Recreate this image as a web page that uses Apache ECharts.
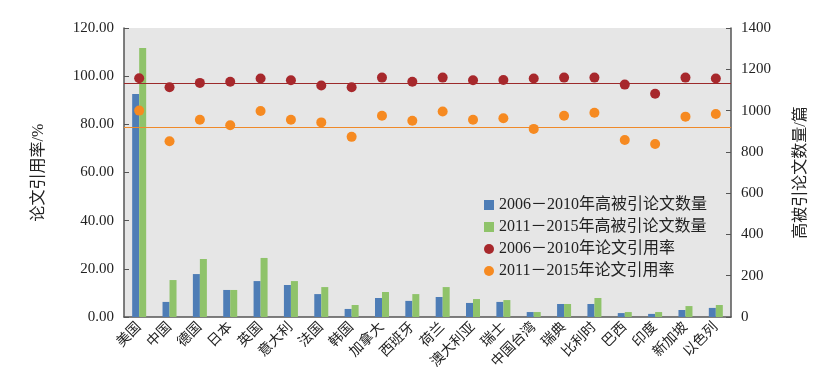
<!DOCTYPE html>
<html><head><meta charset="utf-8">
<script src="https://cdn.jsdelivr.net/npm/echarts@6/dist/echarts.min.js"></script>
<style>html,body{margin:0;padding:0;background:#fff}#c{width:819px;height:384px}</style>
</head><body><div id="c"></div>
<script>
const categories = ['美国','中国','德国','日本','英国','意大利','法国','韩国','加拿大','西班牙','荷兰','澳大利亚','瑞士','中国台湾','瑞典','比利时','巴西','印度','新加坡','以色列'];
const papers0610 = [1080,73,208,131,174,155,111,39,92,78,97,68,73,24,63,63,19,15,34,44];
const papers1115 = [1303,179,281,131,286,174,145,58,121,111,145,87,82,24,63,92,24,24,53,58];
const rate0610 = [99.1,95.4,97.2,97.7,99.0,98.3,96.1,95.4,99.4,97.7,99.4,98.3,98.4,99.0,99.4,99.4,96.5,92.7,99.4,99.0];
const rate1115 = [85.7,73.0,81.9,79.6,85.5,81.9,80.8,74.8,83.6,81.5,85.3,81.9,82.5,78.1,83.6,84.8,73.5,71.8,83.2,84.3];
const avgRate0610 = 97.0;
const avgRate1115 = 78.8;
const leftTicks = {min:0,max:120,interval:20};
const rightTicks = {min:0,max:1400,interval:200};

const serif = '"Liberation Serif","Noto Sans CJK SC",serif';
const txt = '#222';
const axisColor = '#555';
const chart = echarts.init(document.getElementById('c'));
chart.setOption({
  animation:false,
  textStyle:{fontFamily:serif,color:txt},
  grid:{left:124,right:88,top:28,bottom:67,show:true,backgroundColor:'#e6e6e6',borderWidth:0},
  legend:{orient:'vertical',left:479,top:192,itemGap:6,itemWidth:10,itemHeight:10,
    textStyle:{fontFamily:serif,fontSize:16,color:txt},
    data:[{name:'2006－2010年高被引论文数量',icon:'rect'},{name:'2011－2015年高被引论文数量',icon:'rect'},
          {name:'2006－2010年论文引用率',icon:'circle'},{name:'2011－2015年论文引用率',icon:'circle'}]},
  xAxis:{type:'category',data:categories,
    axisLine:{lineStyle:{color:axisColor,width:1.5}},
    axisTick:{inside:true,length:5,lineStyle:{color:axisColor}},
    axisLabel:{rotate:45,interval:0,fontSize:14,color:txt,fontFamily:serif,margin:8}},
  yAxis:[
    {type:'value',min:leftTicks.min,max:leftTicks.max,interval:leftTicks.interval,
     name:'论文引用率/%',nameLocation:'middle',nameRotate:90,nameGap:77,
     nameTextStyle:{fontSize:16,color:txt,fontFamily:serif},
     axisLine:{show:true,lineStyle:{color:axisColor,width:1.5}},
     axisTick:{show:true,inside:true,length:5,lineStyle:{color:axisColor}},
     splitLine:{show:false},
     axisLabel:{fontSize:15,color:txt,fontFamily:serif,margin:10,formatter:v=>v.toFixed(2)}},
    {type:'value',min:rightTicks.min,max:rightTicks.max,interval:rightTicks.interval,
     name:'高被引论文数量/篇',nameLocation:'middle',nameRotate:90,nameGap:62,
     nameTextStyle:{fontSize:16,color:txt,fontFamily:serif},
     axisLine:{show:true,lineStyle:{color:axisColor,width:1.5}},
     axisTick:{show:true,inside:true,length:5,lineStyle:{color:axisColor}},
     splitLine:{show:false},
     axisLabel:{fontSize:15,color:txt,fontFamily:serif,margin:10,formatter:v=>String(v)}}
  ],
  series:[
    {name:'2006－2010年高被引论文数量',type:'bar',yAxisIndex:1,data:papers0610,barWidth:7,barGap:'0%',itemStyle:{color:'#4e7db6'}},
    {name:'2011－2015年高被引论文数量',type:'bar',yAxisIndex:1,data:papers1115,barWidth:7,barGap:'0%',itemStyle:{color:'#8fc36a'}},
    {name:'2006－2010年论文引用率',type:'scatter',yAxisIndex:0,data:rate0610,symbolSize:10,itemStyle:{color:'#a7282c',opacity:1},z:5,
     markLine:{silent:true,symbol:'none',label:{show:false},lineStyle:{color:'#9c2a2b',width:1.2,type:'solid'},data:[{yAxis:avgRate0610}]}},
    {name:'2011－2015年论文引用率',type:'scatter',yAxisIndex:0,data:rate1115,symbolSize:10,itemStyle:{color:'#f68a21',opacity:1},z:5,
     markLine:{silent:true,symbol:'none',label:{show:false},lineStyle:{color:'#ef8a2a',width:1.2,type:'solid'},data:[{yAxis:avgRate1115}]}}
  ]
});
</script></body></html>
